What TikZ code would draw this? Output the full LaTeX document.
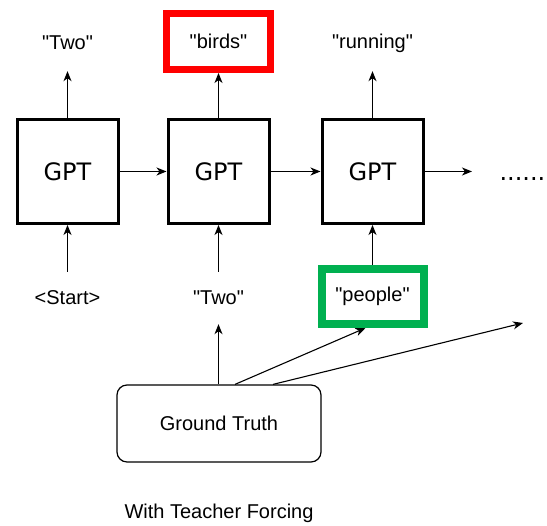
\documentclass[tikz,border=0pt]{standalone}
\usepackage{fontspec}
\setmainfont{Liberation Sans}
\newfontfamily\gptfont{DejaVu Sans}
\usetikzlibrary{arrows.meta}

\definecolor{markred}{HTML}{FF0000}
\definecolor{markgreen}{HTML}{00B050}

% straight double quotes round a token
\newcommand{\tok}[1]{\textquotedbl#1\textquotedbl}

\tikzset{
  gptbox/.style={draw,line width=3pt,minimum width=101pt,minimum height=104pt,
    font=\gptfont\fontsize{24}{28}\selectfont},
  word/.style={inner sep=0pt,minimum width=104pt,minimum height=56pt,
    font=\fontsize{20}{24}\selectfont},
  redframe/.style={draw=markred,line width=7pt},
  greenframe/.style={draw=markgreen,line width=8pt},
  arr/.style={-{Stealth[length=10pt,width=8pt,inset=3pt]},line width=1.1pt},
}

\begin{document}
\begin{tikzpicture}[x=1pt,y=1pt]
                \useasboundingbox (0,0) rectangle (547,526);
                % the three GPT steps
                \node[gptbox] (gpt1) at(67.5,354.5) {GPT};
                \node[gptbox] (gpt2) at(218.5,354.5) {GPT};
                \node[gptbox] (gpt3) at(372.5,354.5) {GPT};
                \coordinate (next) at(472,354.5);
                \node[anchor=base west,font=\gptfont\fontsize{24}{28}\selectfont] (dots) at(496,345) {......};
                % predicted words
                \node[word] (out1) at(67.5,483) {\tok{Two}};
                \node[word,redframe,minimum width=104pt] (out2) at(218.5,484.5) {\tok{birds}};
                \node[word] (out3) at(372.5,483) {\tok{running}};
                % fed-in words
                \node[word,minimum height=52pt] (in1) at(67.5,228) {<Start>};
                \node[word,minimum height=52pt] (in2) at(218.5,228) {\tok{Two}};
                \node[word,greenframe,minimum width=102pt,minimum height=55pt] (in3) at(372.5,229.5) {\tok{people}};
                % ground truth source
                \node[draw,line width=1.2pt,rounded corners=10pt,minimum width=204pt,minimum height=77pt,
                      font=\fontsize{20}{24}\selectfont] (gt) at(219,102.5) {Ground Truth};
                \coordinate (gtA) at([xshift=16pt]gt.north);
                \coordinate (gtB) at([xshift=54pt]gt.north);
                \coordinate (far) at(523,203);
                \node[font=\fontsize{20}{24}\selectfont] (caption) at(219,13) {With Teacher Forcing};
                % connectors
                \draw[arr] (gpt1)--(gpt2);
                \draw[arr] (gpt2)--(gpt3);
                \draw[arr] (gpt3)--(next);
                \draw[arr] (gpt1)--(out1);
                \draw[arr] (gpt2)--(out2);
                \draw[arr] (gpt3)--(out3);
                \draw[arr] (in1)--(gpt1);
                \draw[arr] (in2)--(gpt2);
                \draw[arr] (in3)--(gpt3);
                \draw[arr] (gt.north-|in2)--(in2);
                \draw[arr] (gtA)--([xshift=-7pt]in3.south);
                \draw[arr] (gtB)--(far);
            \end{tikzpicture}
\end{document}
